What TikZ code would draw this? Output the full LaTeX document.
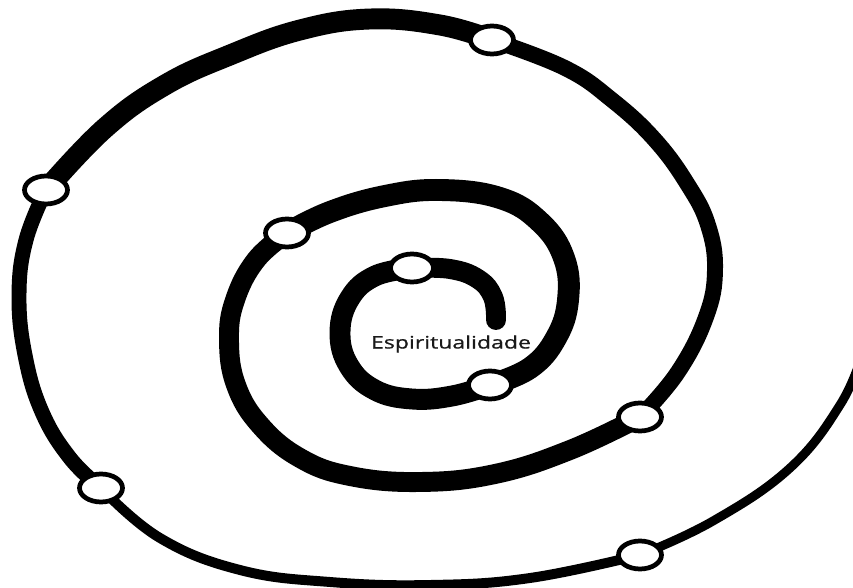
\documentclass[tikz,border=0pt]{standalone}
\usepackage{fontspec}
\newfontfamily\labelfont[FakeBold=0.7]{Open Sans}
\usetikzlibrary{shapes.geometric, backgrounds}
\definecolor{ink}{RGB}{0, 0, 0}
\definecolor{labelgray}{RGB}{25, 25, 25}
\tikzset{
  stage/.style={ellipse, draw=ink, fill=white, line width=2.7pt, minimum width=0.86cm, minimum height=0.56cm, inner sep=0pt},
  coil/.style={draw=ink, line width=#1*0.5669pt},
}

\begin{document}
\begin{tikzpicture}[x=0.02cm, y=-0.02cm]
  \useasboundingbox (0,0) rectangle (853,588);
  \node[stage] (s1) at (412,268) {};
  \node[stage] (s2) at (490,385) {};
  \node[stage] (s3) at (287,233) {};
  \node[stage] (s4) at (640,417) {};
  \node[stage] (s5) at (492,40) {};
  \node[stage] (s6) at (46,190) {};
  \node[stage] (s7) at (101,488) {};
  \node[stage] (s8) at (640,555) {};
  \node[font=\labelfont\fontsize{9.8}{11}\selectfont, text=labelgray, xscale=1.34, anchor=base, inner sep=0pt] (tema) at (451,348.5) {Espiritualidade};
  \begin{scope}[on background layer]
    \fill[white] (0,0) rectangle (853,588);
    \draw[coil=20, line cap=round] plot[smooth, tension=0.7] coordinates {(496,320) (493,297) (478,279) (450,269) (s1.center)};
    \draw[coil=21] plot[smooth, tension=0.7] coordinates {(s1.center) (375,276) (350,298) (340,332) (349,366) (375,390) (412,399) (452,396) (s2.center)};
    \draw[coil=22] plot[smooth, tension=0.7] coordinates {(s2.center) (530,368) (556,338) (568,300) (564,258) (540,222) (500,198) (440,190) (385,196) (330,212) (s3.center)};
    \draw[coil=20] plot[smooth, tension=0.7] coordinates {(s3.center) (256,260) (235,300) (229,340) (236,385) (260,425) (300,458) (350,476) (420,482) (495,474) (570,450) (s4.center)};
    \draw[coil=16] plot[smooth, tension=0.7] coordinates {(s4.center) (678,372) (706,317) (715,270) (708,225) (688,185) (655,140) (612,100) (565,68) (s5.center)};
    \draw[coil=21] plot[smooth, tension=0.7] coordinates {(s5.center) (440,25) (370,19) (300,30) (230,55) (165,85) (105,128) (s6.center)};
    \draw[coil=15] plot[smooth, tension=0.7] coordinates {(s6.center) (26,240) (19,295) (25,355) (42,412) (70,458) (s7.center)};
    \draw[coil=10] plot[smooth, tension=0.7] coordinates {(s7.center) (160,538) (240,570) (330,582) (430,585) (530,578) (s8.center)};
    \draw[coil=9] plot[smooth, tension=0.7] coordinates {(s8.center) (713,521) (790,468) (840,405) (862,355)};
  \end{scope}
\end{tikzpicture}
\end{document}
